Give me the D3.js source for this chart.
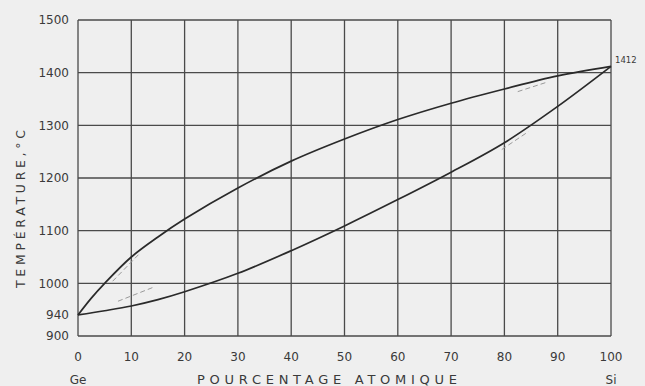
<!DOCTYPE html>
<html><head><meta charset="utf-8">
<script src="https://cdn.jsdelivr.net/npm/d3@7"></script>
<style>body{margin:0;background:#efefef;} svg{display:block;}</style>
</head><body>
<script>
const xTicks = [0,10,20,30,40,50,60,70,80,90,100];
const yGrid = [900,1000,1100,1200,1300,1400,1500];
const yTickLabels = [900,940,1000,1100,1200,1300,1400,1500];
const liquidusX = [0,2.5,5,10,15,20,30,40,50,60,70,80,90,100];
const liquidusT = [940,972,1000,1050,1088,1122,1181,1232,1274,1311,1342,1369,1394,1412];
const solidusX = [0,5,10,15,20,30,40,50,60,70,80,90,100];
const solidusT = [940,948,957,969,984,1019,1062,1109,1159,1211,1267,1336,1412];
const dashedSegs = [
  [[6.5,1004],[11.5,1056]],
  [[7.5,966],[14,992]],
  [[82.5,1364],[88,1382]],
  [[79.5,1254],[84.5,1288]]
];
const W=645,H=386;
const svg=d3.select("body").append("svg").attr("width",W).attr("height",H);
svg.append("rect").attr("width",W).attr("height",H).attr("fill","#efefef");
const x=d3.scaleLinear().domain([0,100]).range([78,611]);
const y=d3.scaleLinear().domain([900,1500]).range([336,20]);
const gridCol="#4a4a4a";
const g=svg.append("g");
g.selectAll(".vg").data(xTicks).join("line")
 .attr("x1",d=>x(d)).attr("x2",d=>x(d)).attr("y1",y(900)).attr("y2",y(1500))
 .attr("stroke",gridCol).attr("stroke-width",1.3);
g.selectAll(".hg").data(yGrid).join("line")
 .attr("x1",x(0)).attr("x2",x(100)).attr("y1",d=>y(d)).attr("y2",d=>y(d))
 .attr("stroke",gridCol).attr("stroke-width",1.3);
const font="'DejaVu Sans', sans-serif";
svg.selectAll(".yl").data(yTickLabels).join("text")
 .attr("x",69).attr("y",d=>y(d)).attr("dy","0.36em").attr("text-anchor","end")
 .attr("font-family",font).attr("font-size",12).attr("fill","#3a3a3a").text(d=>d);
svg.selectAll(".xl").data(xTicks).join("text")
 .attr("x",d=>x(d)).attr("y",357).attr("dy","0.36em").attr("text-anchor","middle")
 .attr("font-family",font).attr("font-size",12).attr("fill","#3a3a3a").text(d=>d);
svg.append("text").attr("x",x(0)).attr("y",384).attr("text-anchor","middle")
 .attr("font-family",font).attr("font-size",12).attr("fill","#3a3a3a").text("Ge");
svg.append("text").attr("x",x(100)).attr("y",384).attr("text-anchor","middle")
 .attr("font-family",font).attr("font-size",12).attr("fill","#3a3a3a").text("Si");
svg.append("text").attr("x",197).attr("y",384).attr("textLength",260).attr("lengthAdjust","spacing")
 .attr("font-family",font).attr("font-size",13).attr("fill","#3a3a3a").text("POURCENTAGE ATOMIQUE");
svg.append("text").attr("transform","translate(25,288) rotate(-90)").attr("textLength",158).attr("lengthAdjust","spacing")
 .attr("font-family",font).attr("font-size",12.5).attr("fill","#3a3a3a").text("TEMPÉRATURE,°C");
svg.append("text").attr("x",615).attr("y",y(1412)-3).attr("font-family",font).attr("font-size",8.5)
 .attr("fill","#3a3a3a").text("1412");
const line=d3.line().x(d=>x(d[0])).y(d=>y(d[1])).curve(d3.curveCatmullRom.alpha(0.5));
svg.append("path").datum(liquidusX.map((v,i)=>[v,liquidusT[i]])).attr("d",line)
 .attr("fill","none").attr("stroke","#2a2a2a").attr("stroke-width",1.7);
svg.append("path").datum(solidusX.map((v,i)=>[v,solidusT[i]])).attr("d",line)
 .attr("fill","none").attr("stroke","#2a2a2a").attr("stroke-width",1.7);
const sl=d3.line().x(d=>x(d[0])).y(d=>y(d[1]));
svg.selectAll(".ds").data(dashedSegs).join("path").attr("d",sl)
 .attr("fill","none").attr("stroke","#9a9a9a").attr("stroke-width",1).attr("stroke-dasharray","5,3");
</script>
</body></html>
